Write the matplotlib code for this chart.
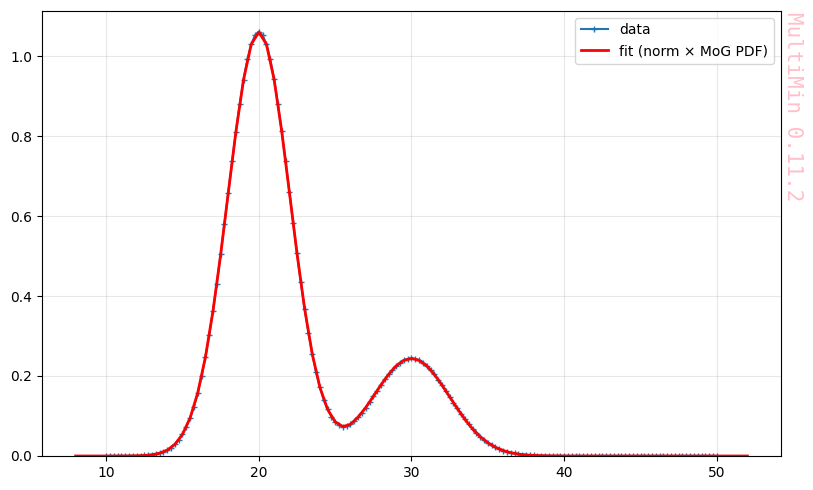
import numpy as np
import matplotlib
matplotlib.use("Agg")
import matplotlib.pyplot as plt

# data sampled on a 0.25 grid from 10 to 50
data_x = np.linspace(10, 50, 161)
data_y = [
    0.0, 0.0, 0.0, 0.0, 0.0001, 0.0001, 0.0002, 0.0003,
    0.0005, 0.0008, 0.0013, 0.0020, 0.0031, 0.0047, 0.0070, 0.0102,
    0.0146, 0.0207, 0.0290, 0.0399, 0.0542, 0.0724, 0.0953, 0.1236,
    0.1580, 0.1989, 0.2468, 0.3017, 0.3633, 0.4311, 0.5039, 0.5804,
    0.6586, 0.7363, 0.8110, 0.8802, 0.9411, 0.9914, 1.0289, 1.0521,
    1.0601, 1.0522, 1.0291, 0.9917, 0.9415, 0.8807, 0.8118, 0.7374,
    0.6601, 0.5824, 0.5066, 0.4347, 0.3681, 0.3081, 0.2551, 0.2096,
    0.1717, 0.1409, 0.1170, 0.0985, 0.0855, 0.0775, 0.0735, 0.0742,
    0.0790, 0.0870, 0.0970, 0.1085, 0.1210, 0.1347, 0.1490, 0.1633,
    0.1777, 0.1913, 0.2040, 0.2154, 0.2253, 0.2333, 0.2392, 0.2428,
    0.2440, 0.2428, 0.2392, 0.2333, 0.2252, 0.2153, 0.2038, 0.1910,
    0.1772, 0.1627, 0.1480, 0.1332, 0.1188, 0.1048, 0.0916, 0.0792,
    0.0678, 0.0575, 0.0483, 0.0401, 0.0330, 0.0269, 0.0217, 0.0173,
    0.0137, 0.0107, 0.0083, 0.0064, 0.0048, 0.0036, 0.0027, 0.0020,
    0.0015, 0.0011, 0.0008, 0.0005, 0.0004, 0.0003, 0.0002, 0.0001,
    0.0001,
    0.0, 0.0, 0.0, 0.0, 0.0, 0.0, 0.0, 0.0, 0.0, 0.0,
    0.0, 0.0, 0.0, 0.0, 0.0, 0.0, 0.0, 0.0, 0.0, 0.0,
    0.0, 0.0, 0.0, 0.0, 0.0, 0.0, 0.0, 0.0, 0.0, 0.0,
    0.0, 0.0, 0.0, 0.0, 0.0, 0.0, 0.0, 0.0, 0.0, 0.0,
]

# fitted curve on a 0.5 grid from 8 to 52
fit_x = np.linspace(8, 52, 89)
fit_y = [
    0.0, 0.0, 0.0, 0.0,
    0.0, 0.0, 0.0001, 0.0002, 0.0005, 0.0013, 0.0031, 0.0070,
    0.0146, 0.0290, 0.0542, 0.0953, 0.1580, 0.2468, 0.3633, 0.5039,
    0.6586, 0.8110, 0.9411, 1.0289, 1.0601, 1.0291, 0.9415, 0.8118,
    0.6601, 0.5066, 0.3681, 0.2551, 0.1717, 0.1170, 0.0855, 0.0735,
    0.0790, 0.0970, 0.1210, 0.1490, 0.1777, 0.2040, 0.2253, 0.2392,
    0.2440, 0.2392, 0.2252, 0.2038, 0.1772, 0.1480, 0.1188, 0.0916,
    0.0678, 0.0483, 0.0330, 0.0217, 0.0137, 0.0083, 0.0048, 0.0027,
    0.0015, 0.0008, 0.0004, 0.0002, 0.0001, 0.0, 0.0, 0.0,
    0.0, 0.0, 0.0, 0.0, 0.0, 0.0, 0.0, 0.0,
    0.0, 0.0, 0.0, 0.0, 0.0, 0.0, 0.0, 0.0,
    0.0, 0.0, 0.0, 0.0, 0.0,
]

fig = plt.figure(figsize=(8.13, 4.90), dpi=100)
ax = fig.add_axes([0.0517, 0.0694, 0.9089, 0.9086])

ax.plot(data_x, data_y, '+-', color='tab:blue', markersize=4, lw=1.5, label='data')
ax.plot(fit_x, fit_y, '-', color='red', lw=2, label='fit (norm \u00d7 MoG PDF)')
ax.set_ylim(bottom=0)
ax.grid(alpha=0.3)
ax.legend(loc='upper right')

fig.text(0.975, 0.976, 'MultiMin 0.11.2', rotation=-90, ha='center', va='top',
         fontsize=15, family='DejaVu Sans Mono', color='pink')

fig.savefig('out.png', dpi=100)
